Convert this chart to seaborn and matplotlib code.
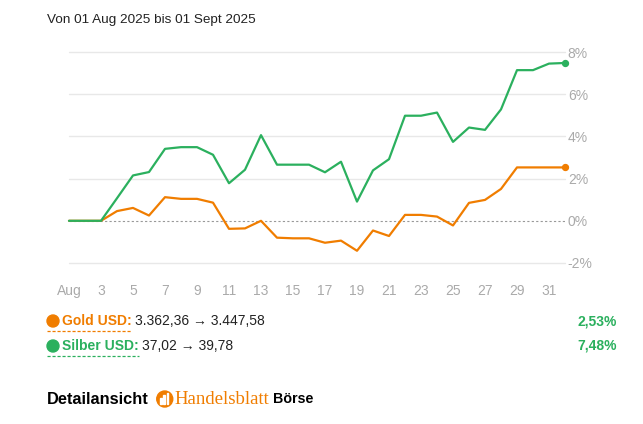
import pandas as pd
import matplotlib
matplotlib.use("Agg")
import matplotlib.pyplot as plt
from matplotlib.patches import Ellipse, Rectangle
from matplotlib.lines import Line2D
import seaborn as sns

# Tage 01.08. bis 01.09.2025 (Index 1..32)
days = list(range(1, 33))
gold = [0.00, 0.00, 0.00, 0.46, 0.61, 0.25, 1.12, 1.04, 1.04, 0.86,
        -0.38, -0.36, 0.00, -0.80, -0.83, -0.83, -1.04, -0.94, -1.42, -0.46,
        -0.72, 0.28, 0.28, 0.20, -0.22, 0.85, 0.99, 1.51, 2.53, 2.53,
        2.53, 2.53]
silber = [0.00, 0.00, 0.00, 1.07, 2.15, 2.31, 3.41, 3.49, 3.49, 3.13,
          1.78, 2.42, 4.06, 2.66, 2.66, 2.66, 2.30, 2.80, 0.91, 2.39,
          2.92, 4.98, 4.98, 5.13, 3.74, 4.42, 4.31, 5.28, 7.14, 7.14,
          7.45, 7.48]
xtick_pos = list(range(1, 32, 2))
xtick_labels = ["Aug"] + [str(d) for d in range(3, 32, 2)]
ytick_pos = [-2, 0, 2, 4, 6, 8]

ORANGE = "#f07d00"
GREEN = "#2bb05e"
GRAY = "#aaaaaa"

df = pd.DataFrame({
    "tag": days * 2,
    "wert": gold + silber,
    "serie": ["Gold"] * len(days) + ["Silber"] * len(days),
})

sns.set_style("white")
plt.rcParams["font.family"] = ["Liberation Sans", "DejaVu Sans"]

W, H = 643, 424
fig = plt.figure(figsize=(W / 100, H / 100), dpi=100)
ax = fig.add_axes([69 / W, 1 - 263 / H, (565 - 69) / W, (263 - 52) / H])

sns.lineplot(data=df, x="tag", y="wert", hue="serie",
             palette={"Gold": ORANGE, "Silber": GREEN},
             linewidth=1.6, legend=False, ax=ax, clip_on=False)

# Endpunkte
ax.scatter([days[-1]], [gold[-1]], s=18, color=ORANGE, zorder=5, clip_on=False)
ax.scatter([days[-1]], [silber[-1]], s=18, color=GREEN, zorder=5, clip_on=False)

ax.set_xlim(days[0], days[-1])
ax.set_ylim(-2, 8)
for v in ytick_pos:
    if v == 0:
        ax.axhline(0, color="#999999", lw=0.8, ls=(0, (2, 2)), zorder=1)
    else:
        ax.axhline(v, color="#e8e8e8", lw=1, zorder=0, clip_on=False)

ax.set_xticks(xtick_pos)
ax.set_xticklabels(xtick_labels)
ax.set_yticks(ytick_pos)
ax.set_yticklabels([f"{v}%" for v in ytick_pos])
ax.yaxis.tick_right()
ax.tick_params(axis="both", length=0, labelsize=10, labelcolor=GRAY)
ax.tick_params(axis="x", pad=15)
ax.tick_params(axis="y", pad=2)
ax.set_xlabel("")
ax.set_ylabel("")
for s in ax.spines.values():
    s.set_visible(False)

fig.text(47 / W, 1 - 20 / H, "Von 01 Aug 2025 bis 01 Sept 2025",
         fontsize=9.7, color="#222222", va="center")

renderer = fig.canvas.get_renderer()


def px(x, y):
    return x / W, 1 - y / H


def dot(x, y, r, col):
    fig.patches.append(Ellipse(px(x, y), 2 * r / W, 2 * r / H,
                               transform=fig.transFigure, color=col,
                               figure=fig))


def text_after(prev, s, gap=3, **kw):
    bb = prev.get_window_extent(renderer)
    x0 = (bb.x1 + gap) / W
    y0 = prev.get_position()[1]
    return fig.text(x0, y0, s, va="center", **kw)


rows = [
    ("Gold USD:", "3.362,36 \u2192 3.447,58", "2,53%", ORANGE, 321),
    ("Silber USD:", "37,02 \u2192 39,78", "7,48%", GREEN, 346),
]
for name, vals, pct, col, y in rows:
    dot(53, y, 6, col)
    t = fig.text(*px(62, y), name, fontsize=10, fontweight="bold",
                 color=col, va="center")
    fig.canvas.draw()
    bb = t.get_window_extent(renderer)
    fig.lines.append(Line2D([47 / W, bb.x1 / W], [1 - (y + 10) / H] * 2,
                            transform=fig.transFigure, color=col, lw=0.9,
                            ls=(0, (2.5, 1.5)), figure=fig))
    text_after(t, vals, fontsize=10, color="#222222")
    fig.text(*px(617, y), pct, fontsize=10, fontweight="bold", color=GREEN,
             va="center", ha="right")

# Fußzeile
d = fig.text(*px(47, 399), "Detailansicht", fontsize=11.8, fontweight="bold",
             color="#000000", va="center")
fig.canvas.draw()
bb = d.get_window_extent(renderer)
cx = bb.x1 + 16
dot(cx, 399, 8, ORANGE)
for i, hgt in enumerate([6, 9, 11]):
    fig.patches.append(Rectangle(((cx - 4.5 + i * 3.2) / W, 1 - 404 / H),
                                 1.8 / W, hgt / H, transform=fig.transFigure,
                                 color="white", figure=fig))
hb = fig.text((cx + 10) / W, 1 - 399 / H, "Handelsblatt", fontsize=13.5,
              family=["Liberation Serif", "DejaVu Serif"], color=ORANGE,
              va="center")
fig.canvas.draw()
text_after(hb, "Börse", gap=3, fontsize=10.3, fontweight="bold",
           color="#000000",
           family=["Liberation Sans Narrow", "Liberation Sans", "DejaVu Sans"])

fig.savefig("out.png", dpi=100)
